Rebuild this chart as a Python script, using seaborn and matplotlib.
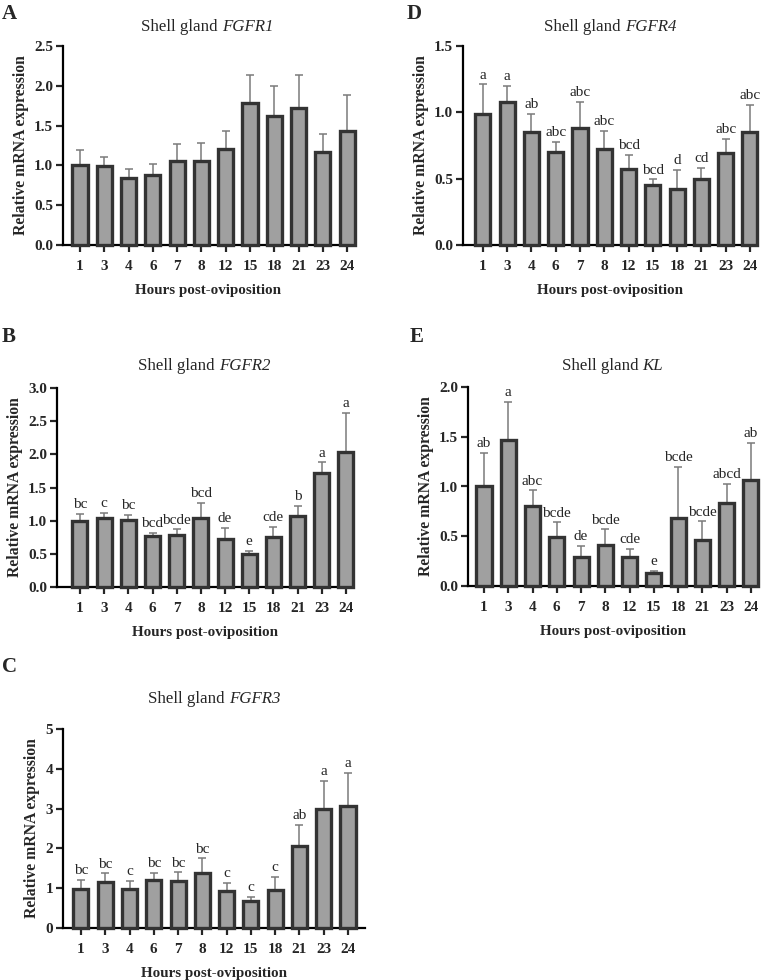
import numpy as np
import pandas as pd
import matplotlib
matplotlib.use('Agg')
import matplotlib.pyplot as plt
import seaborn as sns

hours = ['1', '3', '4', '6', '7', '8', '12', '15', '18', '21', '23', '24']

# FGFR1
fgfr1_mean = [1.00, 0.99, 0.84, 0.875, 1.05, 1.05, 1.21, 1.78, 1.62, 1.725, 1.17, 1.43]
fgfr1_top = [1.19, 1.10, 0.96, 1.02, 1.27, 1.28, 1.43, 2.14, 2.00, 2.14, 1.40, 1.89]

# FGFR2
fgfr2_mean = [1.00, 1.035, 1.01, 0.77, 0.78, 1.045, 0.73, 0.50, 0.75, 1.075, 1.72, 2.03]
fgfr2_top = [1.10, 1.12, 1.09, 0.81, 0.87, 1.27, 0.89, 0.55, 0.91, 1.22, 1.88, 2.63]
fgfr2_letters = ['bc', 'c', 'bc', 'bcd', 'bcde', 'bcd', 'de', 'e', 'cde', 'b', 'a', 'a']

# FGFR3
fgfr3_mean = [0.98, 1.15, 0.99, 1.20, 1.17, 1.38, 0.92, 0.69, 0.96, 2.07, 3.00, 3.07]
fgfr3_top = [1.21, 1.37, 1.19, 1.38, 1.40, 1.75, 1.14, 0.79, 1.28, 2.60, 3.69, 3.89]
fgfr3_letters = ['bc', 'bc', 'c', 'bc', 'bc', 'bc', 'c', 'c', 'c', 'ab', 'a', 'a']

# FGFR4
fgfr4_mean = [0.99, 1.08, 0.855, 0.70, 0.885, 0.72, 0.57, 0.45, 0.425, 0.495, 0.69, 0.85]
fgfr4_top = [1.21, 1.20, 0.99, 0.78, 1.08, 0.86, 0.68, 0.495, 0.565, 0.58, 0.80, 1.055]
fgfr4_letters = ['a', 'a', 'ab', 'abc', 'abc', 'abc', 'bcd', 'bcd', 'd', 'cd', 'abc', 'abc']

# KL
kl_mean = [1.00, 1.47, 0.80, 0.495, 0.295, 0.41, 0.29, 0.135, 0.68, 0.46, 0.835, 1.07]
kl_top = [1.34, 1.85, 0.96, 0.64, 0.40, 0.57, 0.37, 0.155, 1.20, 0.65, 1.03, 1.44]
kl_letters = ['ab', 'a', 'abc', 'bcde', 'de', 'bcde', 'cde', 'e', 'bcde', 'bcde', 'abcd', 'ab']

sns.set_style('ticks')
plt.rcParams['font.family'] = ['Liberation Serif', 'DejaVu Serif']

W, H = 770, 980
fig = plt.figure(figsize=(7.7, 9.8), dpi=100)
renderer = fig.canvas.get_renderer()


def title(ax, gene, ty):
    # "Shell gland " upright + gene in italic, centred together over the axes
    cx = ax.get_position().x0 + ax.get_position().width / 2
    t1 = fig.text(0, 1 - ty / H, 'Shell gland ', fontsize=12.2, va='center', ha='left')
    t2 = fig.text(0, 1 - ty / H, gene, fontsize=12.2, style='italic', va='center', ha='left')
    w1 = t1.get_window_extent(renderer).width / W
    w2 = t2.get_window_extent(renderer).width / W
    x0 = cx - (w1 + w2) / 2
    t1.set_x(x0)
    t2.set_x(x0 + w1)


def panel(box, means, tops, gene, ymax, ystep, yfmt, xlim, ty, letters=None):
    l, r, t, b = box
    ax = fig.add_axes([l / W, 1 - b / H, (r - l) / W, (b - t) / H])
    df = pd.DataFrame({'hour': hours, 'expr': means})
    sns.barplot(data=df, x='hour', y='expr', order=hours, color='#a0a0a0',
                saturation=1, edgecolor='#333333', linewidth=2.4, width=0.62,
                errorbar=None, ax=ax, zorder=3)
    for p in ax.patches:
        p.set_clip_on(False)
    err = np.array(tops) - np.array(means)
    ax.errorbar(np.arange(len(hours)), means, yerr=[np.zeros(len(hours)), err],
                fmt='none', ecolor='#7a7a7a', elinewidth=1.1, capsize=3,
                capthick=1.1, zorder=2)
    if letters is not None:
        for i, s in enumerate(letters):
            ax.annotate(s, (i, tops[i]), xytext=(0, 2), textcoords='offset points',
                        ha='center', va='bottom', fontsize=11)
    ax.set_ylim(0, ymax)
    ticks = np.arange(0, ymax + 1e-9, ystep)
    ax.set_yticks(ticks)
    ax.set_yticklabels([yfmt.format(v) for v in ticks])
    ax.set_xlim(*xlim)
    sns.despine(ax=ax)
    for sp in ['left', 'bottom']:
        ax.spines[sp].set_linewidth(1.6)
        ax.spines[sp].set_color('black')
    ax.tick_params(axis='both', direction='out', length=5, width=1.6, labelsize=11)
    ax.tick_params(axis='y', pad=2)
    ax.tick_params(axis='x', pad=6)
    for lab in ax.get_xticklabels() + ax.get_yticklabels():
        lab.set_fontweight('bold')
    ax.set_xlabel('Hours post-oviposition', fontsize=10.8, fontweight='bold', labelpad=8)
    ax.set_ylabel('Relative mRNA expression', fontsize=11.3, fontweight='bold', labelpad=4)
    title(ax, gene, ty)
    return ax


panel((63, 352, 46, 245), fgfr1_mean, fgfr1_top, 'FGFR1', 2.5, 0.5, '{:.1f}', (-0.7, 11.2), 27)
panel((57, 352, 388, 587), fgfr2_mean, fgfr2_top, 'FGFR2', 3.0, 0.5, '{:.1f}', (-0.95, 11.25), 366, fgfr2_letters)
panel((63, 365, 729, 928), fgfr3_mean, fgfr3_top, 'FGFR3', 5, 1, '{:.0f}', (-0.74, 11.7), 699, fgfr3_letters)
panel((463, 757, 46, 245), fgfr4_mean, fgfr4_top, 'FGFR4', 1.5, 0.5, '{:.1f}', (-0.82, 11.29), 27, fgfr4_letters)
panel((468, 757, 387, 586), kl_mean, kl_top, 'KL', 2.0, 0.5, '{:.1f}', (-0.66, 11.25), 366, kl_letters)

for s, x, y in [('A', 2, 14), ('B', 2, 337), ('C', 2, 667), ('D', 407, 14), ('E', 410, 337)]:
    fig.text(x / W, 1 - y / H, s, fontsize=15, fontweight='bold', va='center', ha='left')

fig.savefig('out.png', dpi=100)
